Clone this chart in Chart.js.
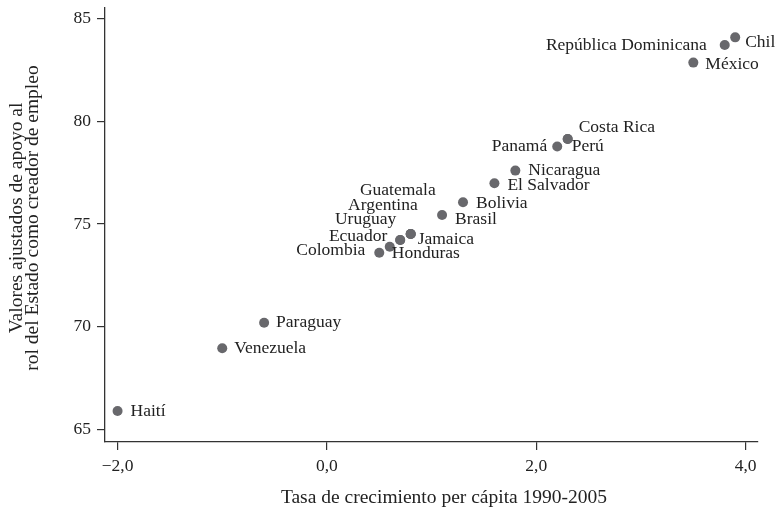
<!DOCTYPE html>
<html>
<head>
<meta charset="utf-8">
<script src="https://cdn.jsdelivr.net/npm/chart.js@4.4.1/dist/chart.umd.min.js"></script>
<style>
  html, body { margin: 0; padding: 0; background: #fff; }
  #wrap { width: 776px; height: 511px; }
</style>
</head>
<body>
<div id="wrap"><canvas id="chart" width="776" height="511"></canvas></div>
<script>
// datos
const countries = [
  'Haití', 'Venezuela', 'Paraguay', 'Colombia', 'Honduras', 'Ecuador', 'Jamaica',
  'Uruguay', 'Argentina', 'Guatemala', 'Brasil', 'Bolivia', 'El Salvador', 'Nicaragua',
  'Panamá', 'Perú', 'Costa Rica', 'México', 'República Dominicana', 'Chile'
];
const growth = [
  -2.0, -1.0, -0.6, 0.5, 0.6, 0.7, 0.8,
  0.7, 0.8, 0.8, 1.1, 1.3, 1.6, 1.8,
  2.2, 2.3, 2.3, 3.5, 3.8, 3.9
];
const support = [
  65.89, 68.95, 70.19, 73.60, 73.89, 74.22, 74.51,
  74.22, 74.51, 74.51, 75.44, 76.06, 76.98, 77.60,
  78.77, 79.14, 79.14, 82.86, 83.72, 84.09
];
const xTicks = [-2, 0, 2, 4];
const yTicks = [65, 70, 75, 80, 85];
const xTitle = 'Tasa de crecimiento per cápita 1990-2005';
const yTitle = ['Valores ajustados de apoyo al', 'rol del Estado como creador de empleo'];

// colocación de etiquetas: [dx, dy, alineación]
const labelPlace = [
  [13, 0, 'left'], [12, 0, 'left'], [12, 0, 'left'], [-14, -2, 'right'], [2, 7, 'left'],
  [-13, -4, 'right'], [7, 5, 'left'], [-4, -21, 'right'], [7, -29, 'right'], [25, -44, 'right'],
  [13, 4, 'left'], [13, 1, 'left'], [13, 2, 'left'], [13, 0, 'left'],
  [-10, 0, 'right'], [4, 7, 'left'], [11, -12, 'left'], [12, 2, 'left'], [-18, 0, 'right'], [10, 5, 'left']
];

const textColor = '#222';
const axisColor = '#333';
const dotColor = '#68686c';
const serif = '"Liberation Serif", "DejaVu Serif", serif';

function formatNum(v) {
  return v.toFixed(1).replace('.', ',').replace('-', '\u2212');
}

// etiquetas de los países
const pointLabels = {
  id: 'pointLabels',
  afterDatasetsDraw(chart) {
    const { ctx } = chart;
    const meta = chart.getDatasetMeta(0);
    ctx.save();
    ctx.font = '17.5px ' + serif;
    ctx.fillStyle = textColor;
    ctx.textBaseline = 'middle';
    meta.data.forEach((pt, i) => {
      const [dx, dy, align] = labelPlace[i];
      ctx.textAlign = align;
      ctx.fillText(countries[i], pt.x + dx, pt.y + dy);
    });
    ctx.restore();
  }
};

// títulos de los ejes
const axisTitles = {
  id: 'axisTitles',
  afterDraw(chart) {
    const { ctx } = chart;
    ctx.save();
    ctx.font = '19.5px ' + serif;
    ctx.fillStyle = textColor;
    ctx.textAlign = 'center';
    ctx.textBaseline = 'alphabetic';
    ctx.fillText(xTitle, 444, 503);
    ctx.translate(0, 218);
    ctx.rotate(-Math.PI / 2);
    yTitle.forEach((line, i) => ctx.fillText(line, 0, 22 + 16 * i));
    ctx.restore();
  }
};

new Chart(document.getElementById('chart').getContext('2d'), {
  type: 'scatter',
  data: {
    datasets: [{
      data: growth.map((g, i) => ({ x: g, y: support[i] })),
      backgroundColor: dotColor,
      borderWidth: 0,
      pointRadius: 5
    }]
  },
  options: {
    responsive: false,
    animation: false,
    events: [],
    layout: { padding: { left: 0, top: 8, right: 18.3, bottom: 0 } },
    plugins: {
      legend: { display: false },
      tooltip: { enabled: false }
    },
    scales: {
      x: {
        type: 'linear',
        min: -2.12,
        max: 4.115,
        afterBuildTicks: s => { s.ticks = xTicks.map(v => ({ value: v })); },
        afterFit: s => { s.height = 69; s.paddingLeft = 0; s.paddingRight = 0; },
        grid: { drawOnChartArea: false, tickLength: 8, color: axisColor, lineWidth: 1.2 },
        border: { color: axisColor, width: 1.3 },
        ticks: {
          callback: v => formatNum(v),
          color: textColor,
          font: { family: serif, size: 17.5 },
          padding: 6,
          maxRotation: 0
        }
      },
      y: {
        type: 'linear',
        min: 64.38,
        max: 85.52,
        afterBuildTicks: s => { s.ticks = yTicks.map(v => ({ value: v })); },
        afterFit: s => { s.width = 105; s.paddingTop = 0; s.paddingBottom = 0; },
        grid: { drawOnChartArea: false, tickLength: 8, color: axisColor, lineWidth: 1.2 },
        border: { color: axisColor, width: 1.3 },
        ticks: {
          callback: v => String(v),
          color: textColor,
          font: { family: serif, size: 17.5 },
          padding: 6
        }
      }
    }
  },
  plugins: [pointLabels, axisTitles]
});
</script>
</body>
</html>
